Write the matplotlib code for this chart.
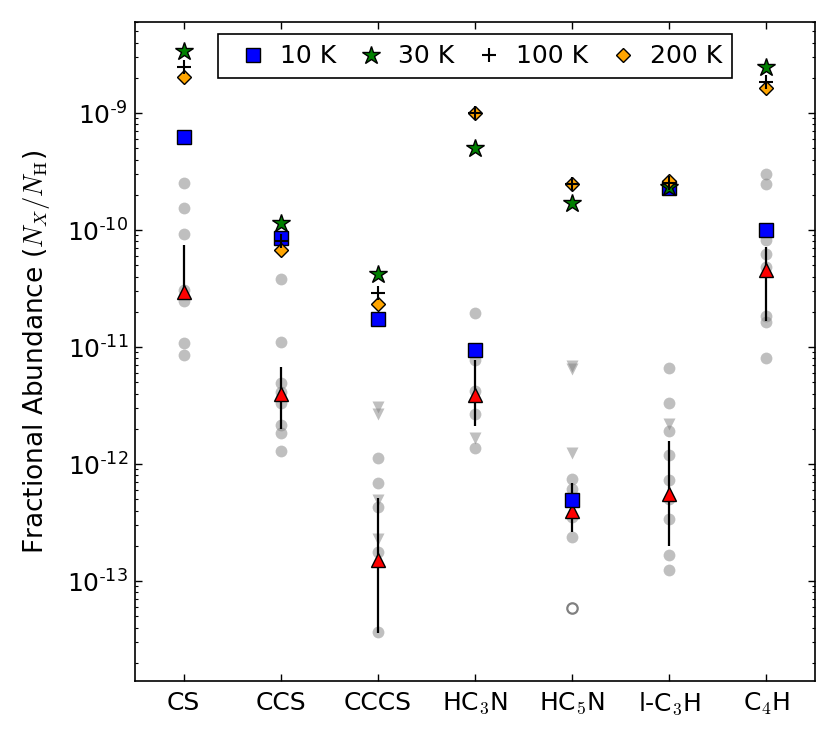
import matplotlib
matplotlib.use("Agg")
import matplotlib.pyplot as plt
import numpy as np
from matplotlib.ticker import LogLocator, NullFormatter, FuncFormatter

plt.rcParams['mathtext.fontset'] = 'cm'
plt.rcParams['axes.unicode_minus'] = False
plt.rcParams['font.family'] = ['DejaVu Sans']

molecules = ['CS', 'CCS', 'CCCS', 'HC$_3$N', 'HC$_5$N', 'l-C$_3$H', 'C$_4$H']

# Model abundances at four temperatures
model_10K = [6.2e-10, 8.6e-11, 1.74e-11, 9.5e-12, 4.9e-13, 2.3e-10, 1.0e-10]
model_30K = [3.4e-9, 1.14e-10, 4.17e-11, 5.07e-10, 1.71e-10, 2.35e-10, 2.46e-9]
model_100K = [2.45e-9, 8.1e-11, 2.9e-11, 1.0e-9, 2.46e-10, 2.5e-10, 1.83e-9]
model_200K = [2.05e-9, 6.8e-11, 2.34e-11, 1.0e-9, 2.46e-10, 2.65e-10, 1.63e-9]

# Observed detections (grey circles)
det_CS = [2.51e-10, 1.53e-10, 9.3e-11, 3.1e-11, 2.46e-11, 1.08e-11, 8.5e-12]
det_CCS = [3.78e-11, 1.1e-11, 4.9e-12, 4.17e-12, 3.3e-12, 2.16e-12, 1.83e-12, 1.3e-12]
det_CCCS = [1.13e-12, 6.9e-13, 4.34e-13, 1.77e-13, 3.7e-14]
det_HC3N = [1.94e-11, 7.8e-12, 4.2e-12, 2.69e-12, 1.38e-12]
det_HC5N = [7.4e-13, 6.1e-13, 3.5e-13, 2.4e-13]
det_lC3H = [6.6e-12, 3.3e-12, 1.9e-12, 1.2e-12, 7.3e-13, 5.0e-13, 3.4e-13, 1.67e-13, 1.25e-13]
det_C4H = [3.0e-10, 2.49e-10, 8.3e-11, 6.3e-11, 4.8e-11, 1.83e-11, 1.63e-11, 8.05e-12]

# Upper limits (grey down triangles)
ul_CS = []
ul_CCS = []
ul_CCCS = [3.05e-12, 2.7e-12, 4.92e-13, 2.28e-13]
ul_HC3N = [1.66e-12]
ul_HC5N = [6.9e-12, 6.5e-12, 1.24e-12]
ul_lC3H = [2.18e-12]
ul_C4H = []

# Open circle (HC5N)
open_idx = [4]
open_val = [5.9e-14]

# Mean observed abundance with range
obs_mean = [2.95e-11, 3.96e-12, 1.51e-13, 3.9e-12, 3.95e-13, 5.6e-13, 4.52e-11]
obs_low = [2.65e-11, 1.98e-12, 3.6e-14, 2.13e-12, 2.65e-13, 2.0e-13, 1.66e-11]
obs_high = [7.5e-11, 6.8e-12, 5.15e-13, 7.8e-12, 6.9e-13, 1.56e-12, 7.1e-11]

yticks = [1e-13, 1e-12, 1e-11, 1e-10, 1e-9]

detections = [det_CS, det_CCS, det_CCCS, det_HC3N, det_HC5N, det_lC3H, det_C4H]
upper_limits = [ul_CS, ul_CCS, ul_CCCS, ul_HC3N, ul_HC5N, ul_lC3H, ul_C4H]

fig = plt.figure(figsize=(8.31, 7.30), dpi=100)
ax = fig.add_axes([0.1625, 0.0671, 0.8183, 0.9028])

x = np.arange(len(molecules))

for i in range(len(molecules)):
    d = detections[i]
    if d:
        ax.plot([i] * len(d), d, 'o', color='grey', alpha=0.5, ms=8.5,
                mec='none', zorder=2)
    u = upper_limits[i]
    if u:
        ax.plot([i] * len(u), u, 'v', color='grey', alpha=0.5, ms=8.5,
                mec='none', zorder=2)

ax.plot(open_idx, open_val, 'o', mfc='none', mec='grey', mew=1.6, ms=7.5, zorder=2)

mean = np.array(obs_mean)
yerr = [mean - np.array(obs_low), np.array(obs_high) - mean]
ax.errorbar(x, mean, yerr=yerr, fmt='^', color='k', ecolor='k', elinewidth=1.6,
            capsize=0, mfc='red', mec='k', mew=1, ms=10, zorder=3)

h10, = ax.plot(x, model_10K, 's', mfc='blue', mec='k', mew=1, ms=9.5,
               zorder=4, label='10 K')
h30, = ax.plot(x, model_30K, '*', mfc='green', mec='k', mew=1, ms=13.5,
               zorder=5, label='30 K')
h200, = ax.plot(x, model_200K, 'D', mfc='orange', mec='k', mew=1, ms=7.5,
                zorder=6, label='200 K')
h100, = ax.plot(x, model_100K, '+', color='k', mew=1.5, ms=10,
                zorder=7, label='100 K')


def log_label(v, pos):
    e = int(round(np.log10(v)))
    if e < 0:
        return r'$\mathdefault{10^{\text{-}%d}}$' % (-e)
    return r'$\mathdefault{10^{%d}}$' % e


ax.set_yscale('log')
ax.set_ylim(1.4e-14, 6e-9)
ax.set_xlim(-0.5, 6.5)
ax.set_xticks(x)
ax.set_xticklabels(molecules, fontsize=18)
ax.set_yticks(yticks)
ax.yaxis.set_major_formatter(FuncFormatter(log_label))
ax.yaxis.set_minor_locator(LogLocator(base=10, subs=np.arange(2, 10), numticks=50))
ax.yaxis.set_minor_formatter(NullFormatter())
ax.tick_params(axis='both', which='both', direction='in', top=True, right=True)
ax.tick_params(axis='both', which='major', length=5, width=1, labelsize=18, pad=5)
ax.tick_params(axis='x', which='major', pad=7)
ax.tick_params(axis='both', which='minor', length=2.5, width=0.8)
for s in ax.spines.values():
    s.set_linewidth(1.2)

ax.set_ylabel(r'Fractional Abundance ($N_X/N_{\rm H}$)', fontsize=19, labelpad=11)

leg = ax.legend(handles=[h10, h30, h100, h200], loc='upper center', ncol=4,
                numpoints=1, fontsize=18, frameon=True, fancybox=False,
                borderaxespad=0.5, handlelength=2.0, handletextpad=0.08,
                columnspacing=0.4, borderpad=0.4)
leg.get_frame().set_edgecolor('k')
leg.get_frame().set_linewidth(1.2)
leg.get_frame().set_alpha(1)

fig.savefig('out.png', dpi=100)
